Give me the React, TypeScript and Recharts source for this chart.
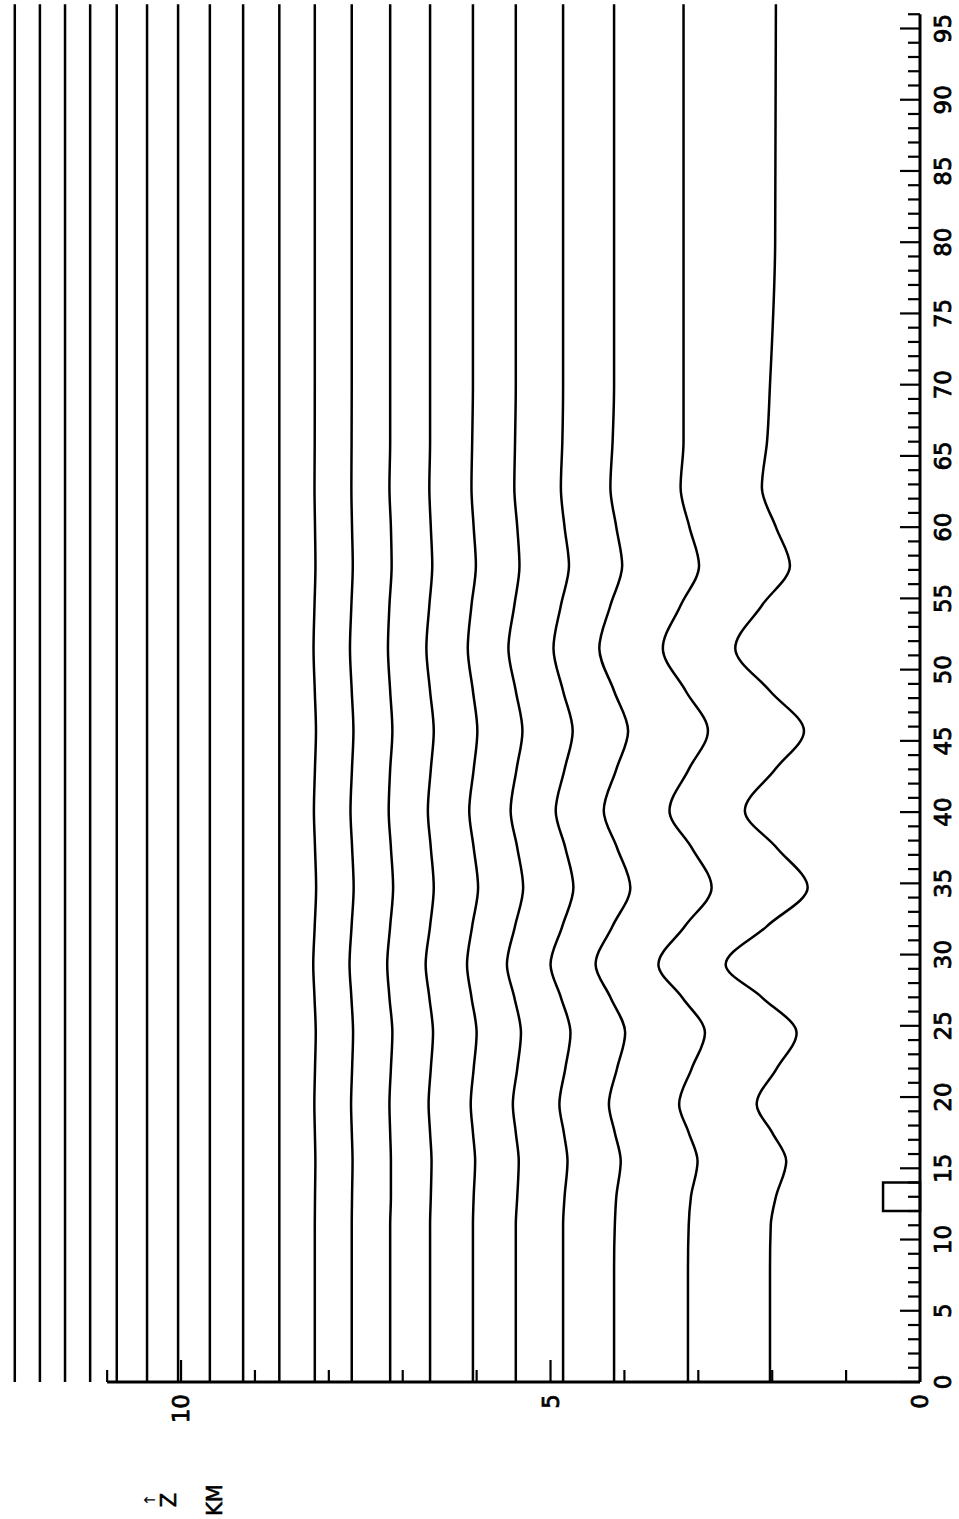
import React from 'react';
import { LineChart, Line, XAxis, YAxis, ReferenceLine, ReferenceArea } from 'recharts';

// horizontal distance (km) sample positions for the wavy streamlines
const GRID_X = [0, 8, 11, 13, 15.5, 17.5, 19.5, 22, 24.5, 27, 29.3, 32, 34.7, 37.5, 40.1, 43, 45.7, 48.5, 51.5, 54.5, 57.3, 60, 62.8, 66, 70, 80, 96.7];
const END_X = [0, 96.7];

// streamline heights z (km), lowest first
const LINE_20 = [2.03, 2.03, 2.02, 1.95, 1.81, 2.0, 2.21, 1.94, 1.67, 2.14, 2.63, 2.07, 1.52, 1.94, 2.37, 1.96, 1.57, 2.03, 2.5, 2.14, 1.76, 1.95, 2.14, 2.07, 2.03, 1.96, 1.95];
const LINE_19 = [3.14, 3.14, 3.13, 3.1, 3.01, 3.13, 3.26, 3.09, 2.91, 3.22, 3.54, 3.18, 2.82, 3.09, 3.39, 3.13, 2.87, 3.17, 3.48, 3.24, 2.99, 3.12, 3.24, 3.2, 3.2, 3.2, 3.2];
const LINE_18 = [4.14, 4.14, 4.13, 4.11, 4.05, 4.13, 4.21, 4.1, 3.99, 4.19, 4.39, 4.16, 3.92, 4.1, 4.28, 4.11, 3.95, 4.14, 4.34, 4.19, 4.03, 4.11, 4.19, 4.16, 4.14, 4.14, 4.14];
const LINE_17 = [4.83, 4.83, 4.83, 4.81, 4.77, 4.82, 4.88, 4.8, 4.73, 4.86, 5.0, 4.84, 4.69, 4.8, 4.93, 4.81, 4.7, 4.83, 4.96, 4.86, 4.75, 4.81, 4.86, 4.84, 4.83, 4.83, 4.83];
const LINE_16 = [5.47, 5.47, 5.47, 5.45, 5.43, 5.47, 5.51, 5.45, 5.4, 5.49, 5.59, 5.48, 5.37, 5.45, 5.54, 5.46, 5.38, 5.47, 5.57, 5.49, 5.42, 5.45, 5.49, 5.48, 5.47, 5.47, 5.47];
const LINE_15 = [6.05, 6.05, 6.05, 6.04, 6.02, 6.05, 6.08, 6.04, 6.0, 6.07, 6.13, 6.06, 5.98, 6.04, 6.1, 6.04, 5.99, 6.05, 6.12, 6.07, 6.01, 6.04, 6.07, 6.06, 6.05, 6.05, 6.05];
const LINE_14 = [6.63, 6.63, 6.63, 6.62, 6.61, 6.63, 6.65, 6.62, 6.59, 6.64, 6.69, 6.63, 6.58, 6.62, 6.66, 6.62, 6.58, 6.63, 6.68, 6.64, 6.6, 6.62, 6.64, 6.63, 6.63, 6.63, 6.63];
const LINE_13 = [7.17, 7.17, 7.17, 7.16, 7.16, 7.17, 7.18, 7.16, 7.14, 7.18, 7.21, 7.17, 7.13, 7.16, 7.19, 7.17, 7.14, 7.17, 7.2, 7.18, 7.15, 7.16, 7.18, 7.17, 7.17, 7.17, 7.17];
const LINE_12 = [7.69, 7.69, 7.69, 7.686, 7.679, 7.689, 7.699, 7.685, 7.672, 7.695, 7.72, 7.692, 7.664, 7.685, 7.707, 7.687, 7.667, 7.69, 7.714, 7.695, 7.676, 7.686, 7.695, 7.692, 7.69, 7.69, 7.69];
const LINE_11 = [8.19, 8.19, 8.19, 8.187, 8.182, 8.189, 8.196, 8.187, 8.177, 8.194, 8.211, 8.191, 8.172, 8.187, 8.202, 8.188, 8.174, 8.19, 8.207, 8.194, 8.181, 8.187, 8.194, 8.191, 8.19, 8.19, 8.19];
const LINE_10 = [8.67, 8.67];
const LINE_9 = [9.16, 9.16];
const LINE_8 = [9.61, 9.61];
const LINE_7 = [10.04, 10.04];
const LINE_6 = [10.46, 10.46];
const LINE_5 = [10.87, 10.87];
const LINE_4 = [11.23, 11.23];
const LINE_3 = [11.57, 11.57];
const LINE_2 = [11.91, 11.91];
const LINE_1 = [12.25, 12.25];

const WAVY = [LINE_20, LINE_19, LINE_18, LINE_17, LINE_16, LINE_15, LINE_14, LINE_13, LINE_12, LINE_11];
const FLAT = [LINE_10, LINE_9, LINE_8, LINE_7, LINE_6, LINE_5, LINE_4, LINE_3, LINE_2, LINE_1];

const X_TICKS = Array.from({ length: 97 }, (_, i) => i);
const X_LABELS = [0, 5, 10, 15, 20, 25, 30, 35, 40, 45, 50, 55, 60, 65, 70, 75, 80, 85, 90, 95];
const Z_TICKS = [0, 1, 2, 3, 4, 5, 6, 7, 8, 9, 10, 11];
const Z_LABELS = [0, 5, 10];

// obstacle block
const BLOCK = { x1: 12, x2: 14, z1: 0, z2: 0.5 };

const FONT = 'DejaVu Sans';

const XTick = (props: any) => {
  const { x, y, payload } = props;
  const v = payload.value;
  const major = v % 5 === 0;
  return (
    <g>
      <line x1={x} y1={y} x2={x} y2={y - (major ? 20 : 12)} stroke="#000" strokeWidth={2.2} />
      {X_LABELS.includes(v) && (
        <text x={x} y={y + 23} textAnchor="middle" dominantBaseline="central" fontSize={23} fontFamily={FONT} fill="#000" stroke="#000" strokeWidth={0.8}>
          {v}
        </text>
      )}
    </g>
  );
};

const ZTick = (props: any) => {
  const { x, y, payload } = props;
  const v = payload.value;
  const major = v % 5 === 0;
  return (
    <g>
      <line x1={x} y1={y} x2={x + (major ? 22 : 12)} y2={y} stroke="#000" strokeWidth={2.2} />
      {Z_LABELS.includes(v) && (
        <text x={x - 12} y={y} textAnchor="end" dominantBaseline="central" fontSize={23} fontFamily={FONT} fill="#000" stroke="#000" strokeWidth={0.8}>
          {v}
        </text>
      )}
    </g>
  );
};

const W = 1519;
const H = 959;

export default function App() {
  const wavyData = WAVY.map((arr) => GRID_X.map((x, i) => ({ x, z: arr[i] })));
  const flatData = FLAT.map((arr) => END_X.map((x, i) => ({ x, z: arr[i] })));
  return (
    <div style={{ position: 'absolute', left: 0, top: 0, width: 959, height: 1519, overflow: 'hidden', background: '#fff' }}>
      <div
        style={{
          position: 'absolute',
          left: 0,
          top: 0,
          width: W,
          height: H,
          transformOrigin: '0 0',
          transform: `translate(0px, ${W}px) rotate(-90deg)`,
        }}
      >
        <LineChart width={W} height={H} margin={{ top: 0, right: 0, bottom: 0, left: 0 }}>
          <XAxis
            type="number"
            dataKey="x"
            domain={[0, 97]}
            ticks={X_TICKS}
            interval={0}
            height={39}
            axisLine={false}
            tickLine={false}
            tickSize={0}
            tickMargin={0}
            tick={(p: any) => <XTick {...p} />}
          />
          <YAxis
            type="number"
            domain={[0, 12.45]}
            ticks={Z_TICKS}
            interval={0}
            width={137}
            axisLine={false}
            tickLine={false}
            tickSize={0}
            tickMargin={0}
            tick={(p: any) => <ZTick {...p} />}
          />
          <ReferenceLine segment={[{ x: 0, y: 0 }, { x: 96, y: 0 }]} stroke="#000" strokeWidth={3} ifOverflow="visible" />
          <ReferenceLine segment={[{ x: 0, y: 0 }, { x: 0, y: 11 }]} stroke="#000" strokeWidth={3} ifOverflow="visible" />
          <ReferenceArea x1={BLOCK.x1} x2={BLOCK.x2} y1={BLOCK.z1} y2={BLOCK.z2} fill="none" fillOpacity={0} stroke="#000" strokeWidth={2.5} ifOverflow="visible" />
          {wavyData.map((d, i) => (
            <Line key={'w' + i} data={d} dataKey="z" type="monotone" stroke="#000" strokeWidth={2.5} dot={false} isAnimationActive={false} />
          ))}
          {flatData.map((d, i) => (
            <Line key={'f' + i} data={d} dataKey="z" type="linear" stroke="#000" strokeWidth={2.5} dot={false} isAnimationActive={false} />
          ))}
        </LineChart>
        <svg width={W} height={H} style={{ position: 'absolute', left: 0, top: 0, pointerEvents: 'none' }}>
          <text x={19} y={150} textAnchor="middle" dominantBaseline="central" fontSize={15} fontFamily={FONT} fill="#000">↑</text>
          <text x={19} y={169} textAnchor="middle" dominantBaseline="central" fontSize={21} fontFamily={FONT} fill="#000" stroke="#000" strokeWidth={0.6}>Z</text>
          <text x={19} y={215} textAnchor="middle" dominantBaseline="central" fontSize={21} fontFamily={FONT} fill="#000" stroke="#000" strokeWidth={0.6}>KM</text>
        </svg>
      </div>
    </div>
  );
}
